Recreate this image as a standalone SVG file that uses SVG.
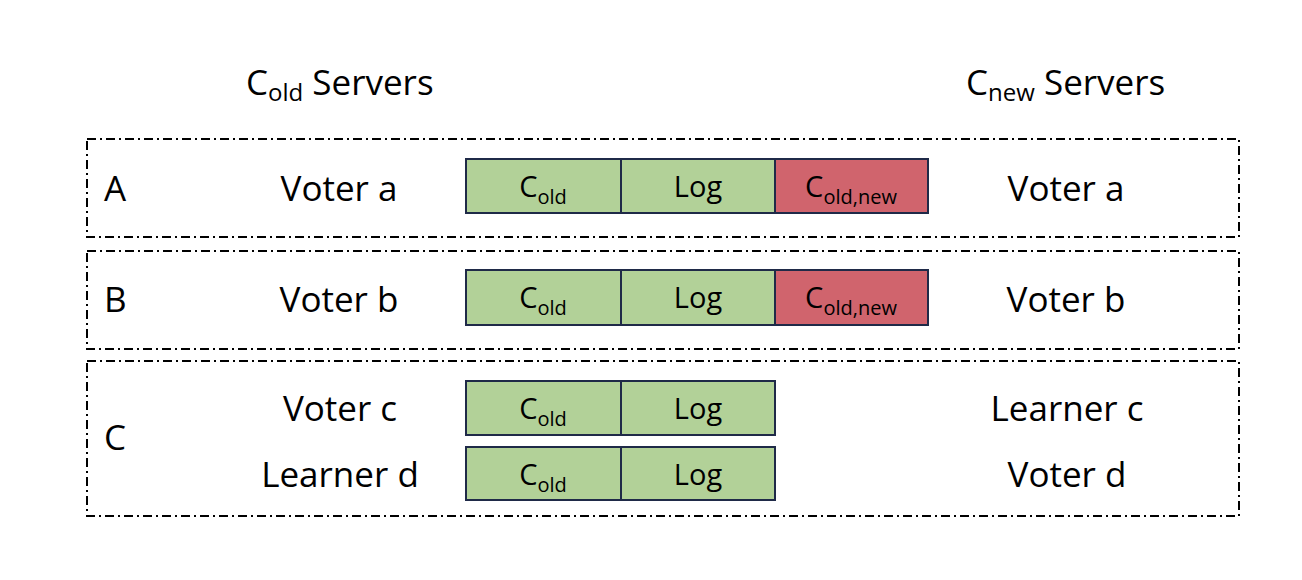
<svg xmlns="http://www.w3.org/2000/svg" width="1302" height="580" viewBox="0 0 1302 580">
<style>
.frame{fill:none;stroke:#000;stroke-width:2;stroke-dasharray:9 4 2 4}
.g{fill:#B2D198;stroke:#1F2A48;stroke-width:2}
.r{fill:#D0646D;stroke:#1F2A48;stroke-width:2}
text{font-family:"Open Sans","Noto Sans","Liberation Sans",sans-serif;fill:#000}
.big{font-size:35px}
.lbl{font-size:35px;text-anchor:middle}
.cell{font-size:29px;text-anchor:middle}
</style>
<rect width="1302" height="580" fill="#fff"/>
<g id="headers">
<text class="big" x="246" y="95">C<tspan font-size="24" dy="6">old</tspan><tspan dy="-6"> Servers</tspan></text>
<text class="big" x="966" y="95">C<tspan font-size="24" dy="6">new</tspan><tspan dy="-6"> Servers</tspan></text>
</g>
<g id="groupA">
<rect class="frame" x="87" y="139" width="1152" height="98"/>
<text class="big" x="104" y="201">A</text>
<text class="lbl" x="339" y="201">Voter a</text>
<rect class="g" x="466" y="159" width="155" height="54"/>
<rect class="g" x="621" y="159" width="154" height="54"/>
<rect class="r" x="775" y="159" width="153" height="54"/>
<text class="cell" x="543" y="197">C<tspan font-size="20" dy="7">old</tspan></text>
<text class="cell" x="698" y="197">Log</text>
<text class="cell" x="851" y="197">C<tspan font-size="20" dy="7">old,new</tspan></text>
<text class="lbl" x="1066" y="201">Voter a</text>
</g>
<g id="groupB">
<rect class="frame" x="87" y="251" width="1152" height="98"/>
<text class="big" x="104" y="312">B</text>
<text class="lbl" x="339" y="312">Voter b</text>
<rect class="g" x="466" y="270" width="155" height="55"/>
<rect class="g" x="621" y="270" width="154" height="55"/>
<rect class="r" x="775" y="270" width="153" height="55"/>
<text class="cell" x="543" y="308">C<tspan font-size="20" dy="7">old</tspan></text>
<text class="cell" x="698" y="308">Log</text>
<text class="cell" x="851" y="308">C<tspan font-size="20" dy="7">old,new</tspan></text>
<text class="lbl" x="1066" y="312">Voter b</text>
</g>
<g id="groupC">
<rect class="frame" x="87" y="361" width="1152" height="155"/>
<text class="big" x="104" y="450">C</text>
<text class="lbl" x="340" y="421">Voter c</text>
<text class="lbl" x="340" y="487">Learner d</text>
<rect class="g" x="466" y="381" width="155" height="54"/>
<rect class="g" x="621" y="381" width="154" height="54"/>
<text class="cell" x="543" y="419">C<tspan font-size="20" dy="7">old</tspan></text>
<text class="cell" x="698" y="419">Log</text>
<rect class="g" x="466" y="447" width="155" height="53"/>
<rect class="g" x="621" y="447" width="154" height="53"/>
<text class="cell" x="543" y="485">C<tspan font-size="20" dy="7">old</tspan></text>
<text class="cell" x="698" y="485">Log</text>
<text class="lbl" x="1067" y="421">Learner c</text>
<text class="lbl" x="1067" y="487">Voter d</text>
</g>
<g id="connectors"></g>
</svg>
